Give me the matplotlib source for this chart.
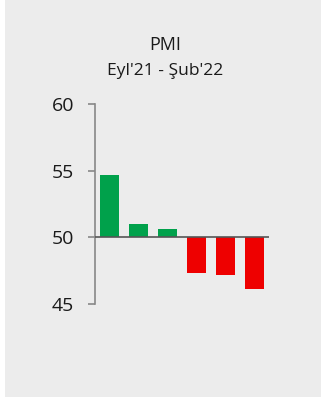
import matplotlib
matplotlib.use("Agg")
import matplotlib.pyplot as plt
from matplotlib.patches import Rectangle

# PMI, Eyl'21 - Şub'22
months = ["Eyl'21", "Eki'21", "Kas'21", "Ara'21", "Oca'22", "Şub'22"]
pmi = [54.7, 51.0, 50.6, 47.3, 47.2, 46.1]
yticks = [45, 50, 55, 60]

green = "#00a14b"
red = "#ee0000"
colors = [green if v >= 50 else red for v in pmi]

plt.rcParams['font.family'] = ['Open Sans', 'DejaVu Sans']

W, H = 321, 401
fig = plt.figure(figsize=(W / 100, H / 100), dpi=100)
fig.patch.set_facecolor("white")
# gray panel behind the chart
fig.patches.append(Rectangle((5 / W, 4 / H), 316 / W, 397 / H, transform=fig.transFigure,
                             facecolor="#ececec", edgecolor="none", zorder=-1))

ax = fig.add_axes([95 / W, (H - 304) / H, 174 / W, 200 / H])
ax.set_zorder(1)
ax.set_facecolor("none")

x = range(len(pmi))
ax.bar(x, [v - 50 for v in pmi], bottom=50, width=0.67, color=colors, zorder=2)
ax.axhline(50, color="#555555", lw=1.2, zorder=3)

ax.set_xlim(-0.5, 5.5)
ax.set_ylim(45, 60)
ax.set_yticks(yticks)
ax.set_xticks([])
for s in ["top", "right", "bottom"]:
    ax.spines[s].set_visible(False)
ax.spines["left"].set_color("#888888")
ax.spines["left"].set_linewidth(1.2)
ax.tick_params(axis="y", length=5, width=1.2, color="#888888", pad=10,
               labelsize=14, labelcolor="#1a1a1a")

fig.text(165 / W, 1 - 45 / H, "PMI", ha="center", va="center", fontsize=13, color="#1a1a1a")
fig.text(165 / W, 1 - 71 / H, "Eyl'21 - Şub'22", ha="center", va="center", fontsize=12.5,
         color="#1a1a1a")

fig.savefig("out.png", dpi=100)
